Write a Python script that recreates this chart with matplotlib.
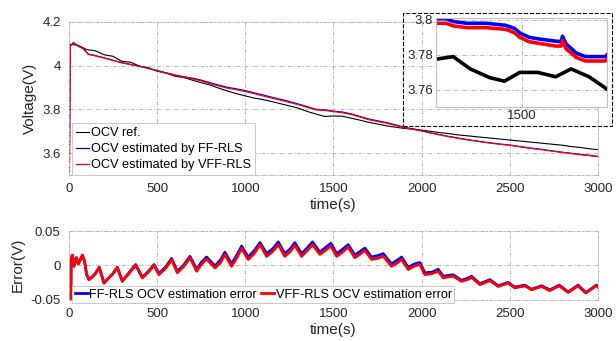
import matplotlib
matplotlib.use('Agg')
import matplotlib.pyplot as plt
from matplotlib.patches import Rectangle

plt.rcParams['font.family'] = ['Liberation Sans', 'DejaVu Sans']

# OCV reference (black), 50 s step
t_ref = list(range(0, 3001, 50))
ocv_ref = [4.098, 4.094, 4.074, 4.068, 4.050, 4.043, 4.020, 4.016, 3.998, 3.991,
           3.975, 3.966, 3.952, 3.946, 3.934, 3.922, 3.912, 3.897, 3.884, 3.872,
           3.862, 3.852, 3.845, 3.836, 3.826, 3.816, 3.806, 3.791, 3.779, 3.768,
           3.770, 3.769, 3.760, 3.751, 3.741, 3.733, 3.725, 3.719, 3.713, 3.710,
           3.705, 3.700, 3.694, 3.690, 3.684, 3.680, 3.676, 3.672, 3.668, 3.664,
           3.660, 3.656, 3.652, 3.648, 3.644, 3.640, 3.636, 3.630, 3.626, 3.620,
           3.616]

# OCV estimates
t_est = [0, 8, 25, 50, 80, 95, 110, 150] + list(range(200, 3001, 50))
ocv_ff = [3.30, 4.09, 4.106, 4.091, 4.079, 4.066, 4.053, 4.046,
          4.036, 4.025, 4.014, 4.006, 3.998, 3.988, 3.978, 3.968, 3.958, 3.950,
          3.943, 3.934, 3.922, 3.911, 3.901, 3.894, 3.886, 3.876, 3.866, 3.856,
          3.846, 3.836, 3.825, 3.813, 3.8006, 3.798, 3.7925, 3.788, 3.780, 3.768,
          3.756, 3.748, 3.740, 3.730, 3.719, 3.711, 3.703, 3.693, 3.685, 3.677,
          3.670, 3.663, 3.657, 3.651, 3.646, 3.641, 3.637, 3.631, 3.625, 3.620,
          3.615, 3.609, 3.604, 3.599, 3.594, 3.590, 3.585]
ocv_vff = [3.30, 4.09, 4.105, 4.090, 4.078, 4.065, 4.052, 4.045,
           4.035, 4.024, 4.013, 4.005, 3.997, 3.987, 3.977, 3.966, 3.956, 3.948,
           3.940, 3.930, 3.918, 3.907, 3.897, 3.890, 3.882, 3.872, 3.862, 3.852,
           3.842, 3.832, 3.822, 3.810, 3.798, 3.7955, 3.790, 3.785, 3.777, 3.765,
           3.753, 3.745, 3.737, 3.727, 3.716, 3.709, 3.701, 3.692, 3.684, 3.676,
           3.669, 3.662, 3.656, 3.650, 3.645, 3.640, 3.636, 3.630, 3.624, 3.619,
           3.614, 3.608, 3.603, 3.598, 3.593, 3.589, 3.584]

# zoomed window 1400-1600 s
t_zoom_ref = [1400, 1420, 1440, 1463, 1480, 1498, 1519, 1540, 1558, 1579, 1600]
ocv_ref_zoom = [3.7775, 3.779, 3.772, 3.767, 3.765, 3.770, 3.770, 3.7675, 3.772, 3.7675, 3.7605]
t_zoom_est = [1400, 1412, 1420, 1436, 1459, 1482, 1492, 1498, 1509, 1521, 1540, 1546,
              1548, 1552, 1564, 1575, 1598, 1600]
ocv_ff_zoom = [3.8006, 3.8006, 3.799, 3.798, 3.798, 3.7968, 3.795, 3.7925, 3.790, 3.789,
               3.7878, 3.7875, 3.7906, 3.7863, 3.781, 3.779, 3.779, 3.780]
ocv_vff_zoom = [3.798, 3.798, 3.7965, 3.7955, 3.7955, 3.7945, 3.7925, 3.790, 3.7875, 3.7865,
                3.785, 3.785, 3.788, 3.7835, 3.7785, 3.7765, 3.7765, 3.7775]

# estimation errors
t_err = [0, 12, 19, 28, 42, 53, 76, 88, 100, 113, 132, 150, 172, 198, 227, 250, 274, 302,
         340, 378, 416, 450, 482, 510, 550, 582, 614, 650, 686, 724, 750, 780, 828, 860,
         884, 922, 950, 979, 1016, 1050, 1083, 1121, 1155, 1187, 1224, 1255, 1281, 1319,
         1350, 1381, 1423, 1455, 1485, 1518, 1550, 1583, 1621, 1650, 1678, 1716, 1750,
         1782, 1829, 1860, 1886, 1924, 1960, 1990, 2018, 2060, 2094, 2122, 2150, 2179,
         2226, 2260, 2283, 2330, 2387, 2434, 2490, 2528, 2585, 2623, 2680, 2727, 2780,
         2831, 2887, 2931, 2991, 3000]
err_vff = [-0.5, 0.008, 0.0147, -0.0015, 0.011, 0.002, 0.0147, 0.006, -0.0137, -0.021,
           -0.017, -0.012, -0.003, -0.026, -0.018, -0.012, -0.003, -0.0235,
           -0.012, 0.0, -0.0185, -0.010, 0.0, -0.0137, -0.004, 0.0084, -0.011, -0.002,
           0.011, -0.0088, 0.001, 0.009, -0.004, 0.004,
           0.0157, -0.0015, 0.010, 0.0245, 0.0084, 0.017, 0.030, 0.013, 0.020, 0.030,
           0.013, 0.020, 0.029, 0.013,
           0.021, 0.030, 0.0157, 0.022, 0.028, 0.013, 0.019, 0.0265, 0.011, 0.016,
           0.0216, 0.0084, 0.010,
           0.013, -0.0015, 0.003, 0.0084, -0.0063, -0.001, 0.001, -0.0137, -0.012,
           -0.0088, -0.0185, -0.017, -0.016,
           -0.0235, -0.021, -0.0176, -0.0284, -0.0225, -0.031, -0.026, -0.033, -0.030,
           -0.0357, -0.031, -0.037, -0.030,
           -0.0397, -0.030, -0.0406, -0.0294, -0.032]
err_ff = [-0.5, 0.008, 0.0147, -0.0015, 0.011, 0.002, 0.0147, 0.006, -0.0137, -0.021,
          -0.017, -0.012, -0.003, -0.026, -0.018, -0.012, -0.003, -0.023,
          -0.011, 0.001, -0.0175, -0.009, 0.001, -0.012, -0.002, 0.010, -0.009, 0.0,
          0.013, -0.006, 0.004, 0.012, -0.001, 0.008,
          0.019, 0.002, 0.014, 0.028, 0.012, 0.021, 0.033, 0.017, 0.024, 0.034,
          0.017, 0.024, 0.033, 0.017,
          0.025, 0.034, 0.019, 0.026, 0.032, 0.017, 0.023, 0.030, 0.015, 0.020,
          0.025, 0.012, 0.014,
          0.017, 0.002, 0.007, 0.012, -0.003, 0.002, 0.004, -0.011, -0.010,
          -0.006, -0.016, -0.015, -0.014,
          -0.022, -0.019, -0.016, -0.027, -0.021, -0.030, -0.025, -0.032, -0.029,
          -0.035, -0.030, -0.036, -0.029,
          -0.039, -0.029, -0.040, -0.029, -0.031]

txt = '#262626'
grid_ls = (0, (4, 2, 1, 2))
fs_tick = 9.5
fs_lab = 11


def style(ax):
    ax.grid(True, color='#b8b8b8', linestyle=grid_ls, linewidth=0.7)
    for s in ax.spines.values():
        s.set_color('#b8b8b8')
        s.set_linestyle(grid_ls)
        s.set_linewidth(0.7)
    ax.tick_params(length=0, labelsize=fs_tick, labelcolor=txt, pad=6)


fig = plt.figure(figsize=(6.16, 3.41), dpi=100)
ax1 = fig.add_axes([69 / 616, 1 - 175 / 341, 529 / 616, 153 / 341])
ax2 = fig.add_axes([69 / 616, 1 - 299.5 / 341, 529 / 616, 68.5 / 341])

ax1.plot(t_ref, ocv_ref, color='black', lw=0.8, label='OCV ref.')
ax1.plot(t_est, ocv_ff, color='#0000ff', lw=0.9, label='OCV estimated by FF-RLS')
ax1.plot(t_est, ocv_vff, color='#ff0000', lw=0.9, label='OCV estimated by VFF-RLS')
ax1.set_xlim(0, 3000)
ax1.set_ylim(3.5, 4.2)
ax1.set_xticks(range(0, 3001, 500))
ax1.set_yticks([3.6, 3.8, 4.0, 4.2])
ax1.set_yticklabels(['3.6', '3.8', '4', '4.2'])
ax1.set_xlabel('time(s)', fontsize=fs_lab, color=txt, labelpad=2)
ax1.set_ylabel('Voltage(V)', fontsize=fs_lab, color=txt, labelpad=4)
style(ax1)
leg1 = ax1.legend(loc='lower left', bbox_to_anchor=(0.006, 0.0), borderaxespad=0,
                  fontsize=9.2, fancybox=False, framealpha=1, edgecolor='#c8c8c8',
                  handlelength=1.0, handletextpad=0.15, labelspacing=0.32,
                  borderpad=0.3)
leg1.get_frame().set_linewidth(0.7)

ax2.plot(t_err, err_ff, color='#0000ff', lw=2.0, label='FF-RLS OCV estimation error')
ax2.plot(t_err, err_vff, color='#ff0000', lw=2.0, label='VFF-RLS OCV estimation error')
ax2.set_xlim(0, 3000)
ax2.set_ylim(-0.05, 0.05)
ax2.set_xticks(range(0, 3001, 500))
ax2.set_yticks([-0.05, 0, 0.05])
ax2.set_yticklabels(['-0.05', '0', '0.05'])
ax2.set_xlabel('time(s)', fontsize=fs_lab, color=txt, labelpad=2)
ax2.set_ylabel('Error(V)', fontsize=fs_lab, color=txt, labelpad=4)
style(ax2)
leg2 = ax2.legend(loc='lower left', bbox_to_anchor=(0.006, -0.055), borderaxespad=0,
                  ncol=2, fontsize=9.2, fancybox=False, framealpha=1,
                  edgecolor='#c8c8c8', handlelength=1.0, handletextpad=0.15,
                  columnspacing=0.3, borderpad=0.2)
leg2.get_frame().set_linewidth(0.7)

# dashed box around the zoom
fig.add_artist(Rectangle((403 / 616, 1 - 126 / 341), 209 / 616, 113 / 341,
                         transform=fig.transFigure, fill=False, ls='--',
                         lw=0.8, color='black'))

ax3 = fig.add_axes([436 / 616, 1 - 107.5 / 341, 171 / 616, 89.5 / 341])
ax3.plot(t_zoom_est, ocv_ff_zoom, color='#0000ff', lw=2.6)
ax3.plot(t_zoom_est, ocv_vff_zoom, color='#ff0000', lw=2.6)
ax3.plot(t_zoom_ref, ocv_ref_zoom, color='black', lw=2.6)
ax3.set_xlim(1400, 1600)
ax3.set_ylim(3.750, 3.801)
ax3.set_xticks([1500])
ax3.set_yticks([3.76, 3.78, 3.80])
ax3.set_yticklabels(['3.76', '3.78', '3.8'])
ax3.grid(True, color='#b8b8b8', linestyle=grid_ls, linewidth=0.7)
for s in ax3.spines.values():
    s.set_color('#c0c0c0')
    s.set_linewidth(0.8)
ax3.tick_params(length=0, labelsize=fs_tick, labelcolor=txt, pad=2)

fig.savefig('out.png', dpi=100)
